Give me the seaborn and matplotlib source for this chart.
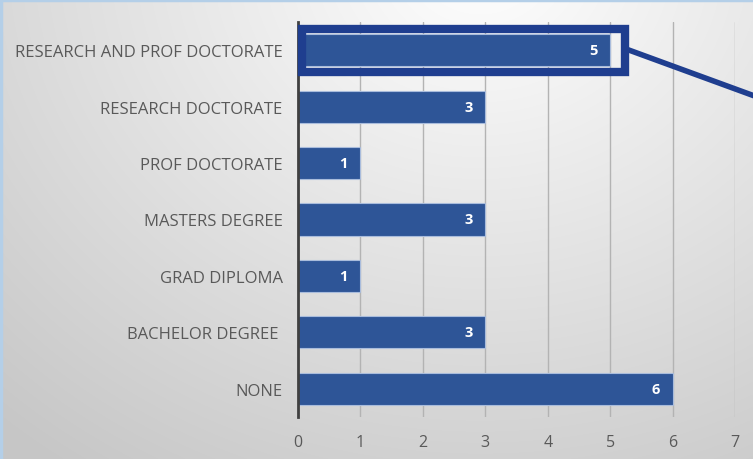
import numpy as np
import pandas as pd
import matplotlib.pyplot as plt
import seaborn as sns
from matplotlib.patches import Rectangle
from matplotlib.lines import Line2D

categories = ["RESEARCH AND PROF DOCTORATE", "RESEARCH DOCTORATE", "PROF DOCTORATE",
              "MASTERS DEGREE", "GRAD DIPLOMA", "BACHELOR DEGREE ", "NONE"]
counts = [5, 3, 1, 3, 1, 3, 6]
x_ticks = [0, 1, 2, 3, 4, 5, 6, 7]

df = pd.DataFrame({"level": categories, "count": counts})

sns.set_style("white")
plt.rcParams['font.family'] = ['Open Sans', 'DejaVu Sans']

fig = plt.figure(figsize=(7.53, 4.60), dpi=100)

# gradient background
bg = fig.add_axes([0, 0, 1, 1], zorder=-10)
W, H = 753, 460
yy, xx = np.mgrid[0:H, 0:W]
d = np.sqrt(((xx - 480) / 650.0) ** 2 + ((yy + 40) / 560.0) ** 2)
shade = 1.0 - 0.2 * np.clip(d, 0, 1.1)
bg.imshow(np.dstack([shade] * 3), extent=[0, W, H, 0], aspect='auto')
bg.set_xlim(0, W)
bg.set_ylim(H, 0)
bg.axis('off')
bg.add_line(Line2D([0, W], [1, 1], color='#b4cfe8', lw=2.5))
bg.add_line(Line2D([1, 1], [0, H], color='#b4cfe8', lw=2.5))

ax = fig.add_axes([298 / W, 42 / H, (735 - 298) / W, (418 - 23) / H])
ax.patch.set_alpha(0)

sns.barplot(data=df, x="count", y="level", color="#2e5597", width=0.57,
            edgecolor="#a9bcdc", linewidth=0.8, saturation=1, ax=ax)

ax.set_xlim(0, 7)
ax.set_xticks(x_ticks)
ax.xaxis.grid(True, color='#b3b3b3', lw=1)
ax.set_axisbelow(True)
for s in ['top', 'right', 'bottom']:
    ax.spines[s].set_visible(False)
ax.spines['left'].set_color('#404040')
ax.spines['left'].set_linewidth(2)
ax.tick_params(axis='x', direction='in', length=9, width=1.5, color='#7f7f7f',
               labelsize=11.5, labelcolor='#595959', pad=12)
ax.tick_params(axis='y', length=0, labelsize=12, labelcolor='#595959', pad=11)
ax.set_xlabel("")
ax.set_ylabel("")

for i, v in enumerate(counts):
    ax.text(v - 0.2, i, str(v), ha='right', va='center', color='white',
            fontsize=10.5, fontweight='bold')

# highlight box around the top bar plus pointer line
bx = fig.add_axes([0, 0, 1, 1], zorder=5)
bx.set_xlim(0, W)
bx.set_ylim(H, 0)
bx.axis('off')
bx.add_patch(Rectangle((302, 29.5), 323, 43, fill=False, edgecolor='#1f3e8f', lw=6))
bx.add_line(Line2D([626, 760], [50, 99], color='#1f3e8f', lw=4))

fig.savefig("out.png", dpi=100)
